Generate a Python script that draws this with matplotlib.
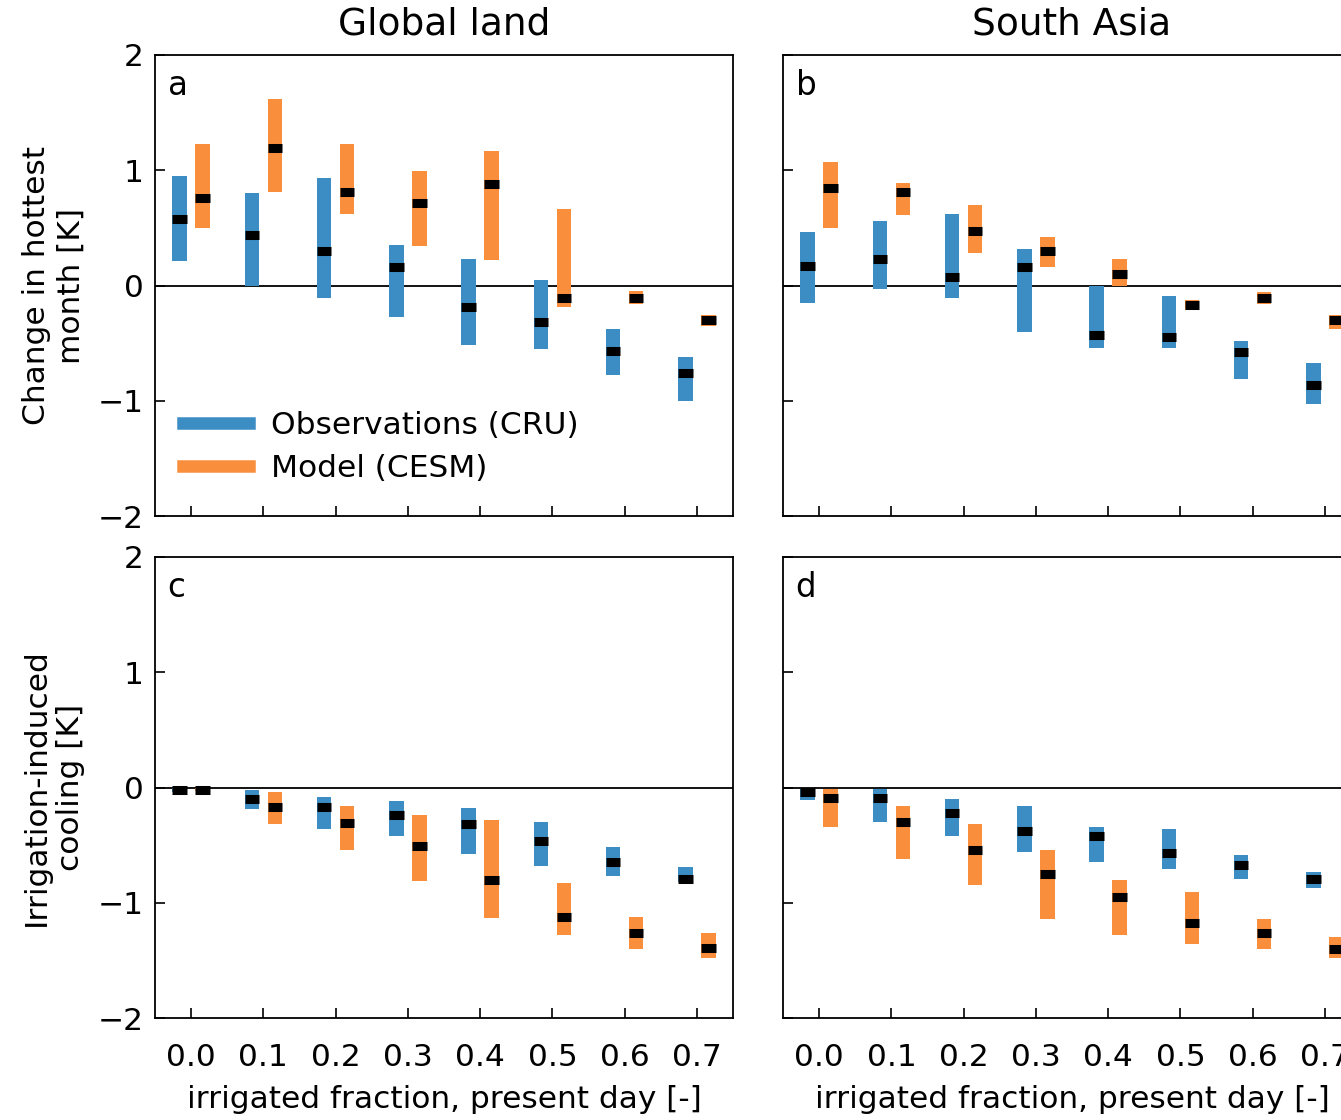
import matplotlib
matplotlib.use("Agg")
import matplotlib.pyplot as plt
from matplotlib.lines import Line2D
import numpy as np

# ---------------- data ----------------
irr_frac = [0.0, 0.1, 0.2, 0.3, 0.4, 0.5, 0.6, 0.7]
xtick_labels = ["0.0", "0.1", "0.2", "0.3", "0.4", "0.5", "0.6", "0.7"]

# Panel a: Global land, change in hottest month
a_obs_low = [0.21, 0.00, -0.11, -0.27, -0.52, -0.55, -0.78, -1.00]
a_obs_med = [0.58, 0.44, 0.30, 0.16, -0.19, -0.32, -0.57, -0.76]
a_obs_high = [0.95, 0.80, 0.93, 0.35, 0.23, 0.05, -0.38, -0.62]
a_mod_low = [0.50, 0.81, 0.62, 0.34, 0.22, -0.19, -0.16, -0.35]
a_mod_med = [0.76, 1.19, 0.81, 0.72, 0.88, -0.11, -0.11, -0.30]
a_mod_high = [1.23, 1.62, 1.23, 0.99, 1.17, 0.66, -0.05, -0.26]

# Panel b: South Asia, change in hottest month
b_obs_low = [-0.15, -0.03, -0.11, -0.40, -0.54, -0.54, -0.81, -1.03]
b_obs_med = [0.17, 0.23, 0.07, 0.16, -0.43, -0.45, -0.58, -0.86]
b_obs_high = [0.46, 0.56, 0.62, 0.32, 0.00, -0.09, -0.48, -0.67]
b_mod_low = [0.50, 0.61, 0.28, 0.16, 0.00, -0.21, -0.16, -0.38]
b_mod_med = [0.85, 0.81, 0.47, 0.30, 0.10, -0.17, -0.11, -0.30]
b_mod_high = [1.07, 0.89, 0.70, 0.42, 0.23, -0.13, -0.06, -0.26]

# Panel c: Global land, irrigation-induced cooling
c_obs_low = [-0.04, -0.19, -0.36, -0.42, -0.58, -0.68, -0.77, -0.82]
c_obs_med = [-0.02, -0.10, -0.17, -0.24, -0.32, -0.46, -0.65, -0.79]
c_obs_high = [0.00, -0.02, -0.08, -0.12, -0.18, -0.30, -0.52, -0.69]
c_mod_low = [-0.03, -0.32, -0.54, -0.81, -1.13, -1.28, -1.40, -1.48]
c_mod_med = [-0.02, -0.17, -0.31, -0.51, -0.80, -1.12, -1.26, -1.39]
c_mod_high = [0.00, -0.04, -0.16, -0.24, -0.28, -0.83, -1.12, -1.26]

# Panel d: South Asia, irrigation-induced cooling
d_obs_low = [-0.11, -0.30, -0.42, -0.56, -0.65, -0.71, -0.79, -0.87]
d_obs_med = [-0.04, -0.09, -0.22, -0.38, -0.42, -0.57, -0.67, -0.79]
d_obs_high = [-0.01, -0.01, -0.10, -0.16, -0.34, -0.36, -0.59, -0.73]
d_mod_low = [-0.34, -0.62, -0.85, -1.14, -1.28, -1.36, -1.40, -1.48]
d_mod_med = [-0.09, -0.30, -0.54, -0.75, -0.95, -1.18, -1.26, -1.40]
d_mod_high = [-0.01, -0.16, -0.32, -0.54, -0.80, -0.91, -1.14, -1.30]

col_titles = ["Global land", "South Asia"]
row_ylabels = ["Change in hottest\nmonth [K]", "Irrigation-induced\ncooling [K]"]
panel_letters = ["a", "b", "c", "d"]
series_labels = ["Observations (CRU)", "Model (CESM)"]
xlabel = "irrigated fraction, present day [-]"

OBS_COLOR = "#3b8dc4"
MOD_COLOR = "#f98e3c"

FS = 22.5
plt.rcParams["font.family"] = ["DejaVu Sans"]
plt.rcParams["font.size"] = FS

fig = plt.figure(figsize=(13.41, 11.2), dpi=100)

W, H = 1341.0, 1120.0
def add_ax(left_px, top_px, w_px, h_px):
    return fig.add_axes([left_px / W, 1 - (top_px + h_px) / H, w_px / W, h_px / H])

ax_w, ax_h = 578, 461
axes = [
    add_ax(155, 55, ax_w, ax_h),
    add_ax(783, 55, ax_w, ax_h),
    add_ax(155, 557, ax_w, ax_h),
    add_ax(783, 557, ax_w, ax_h),
]

panels = [
    (a_obs_low, a_obs_med, a_obs_high, a_mod_low, a_mod_med, a_mod_high),
    (b_obs_low, b_obs_med, b_obs_high, b_mod_low, b_mod_med, b_mod_high),
    (c_obs_low, c_obs_med, c_obs_high, c_mod_low, c_mod_med, c_mod_high),
    (d_obs_low, d_obs_med, d_obs_high, d_mod_low, d_mod_med, d_mod_high),
]

x = np.array(irr_frac)
off = 0.016
bw = 0.02

for i, (ax, pdata) in enumerate(zip(axes, panels)):
    ol, om, oh, ml, mm, mh = [np.array(v) for v in pdata]
    ax.axhline(0, color="black", lw=1.3, zorder=1)
    for xs, lo, md, hi, col in [(x - off, ol, om, oh, OBS_COLOR), (x + off, ml, mm, mh, MOD_COLOR)]:
        ax.bar(xs, hi - lo, bottom=lo, width=bw, color=col, linewidth=0, zorder=2)
        ax.hlines(md, xs - bw / 2, xs + bw / 2, color="black", lw=6.5, zorder=3)
    ax.set_xlim(-0.05, 0.75)
    ax.set_ylim(-2, 2)
    ax.set_xticks(irr_frac)
    ax.set_yticks([-2, -1, 0, 1, 2])
    ax.tick_params(direction="in", length=7, width=1.2, top=False, right=False,
                   labelsize=FS)
    ax.tick_params(axis="x", pad=18)
    ax.tick_params(axis="y", pad=8)
    for sp in ax.spines.values():
        sp.set_linewidth(1.3)
    ax.text(0.022, 0.97, panel_letters[i], transform=ax.transAxes,
            ha="left", va="top", fontsize=FS + 1)
    if i in (2, 3):
        ax.set_xticklabels(xtick_labels)
        ax.set_xlabel(xlabel, fontsize=FS, labelpad=9)
    else:
        ax.set_xticklabels([])
    if i in (0, 2):
        ax.set_yticklabels(["\u22122", "\u22121", "0", "1", "2"])
        ax.set_ylabel(row_ylabels[i // 2], fontsize=FS, labelpad=9, linespacing=1.25)
    else:
        ax.set_yticklabels([])
    if i in (0, 1):
        ax.set_title(col_titles[i], fontsize=FS * 1.2, pad=15)

handles = [Line2D([0], [0], color=OBS_COLOR, lw=9),
           Line2D([0], [0], color=MOD_COLOR, lw=9)]
axes[0].legend(handles, series_labels, loc="lower left", frameon=False,
               handlelength=2.1, handletextpad=0.7, fontsize=FS,
               borderaxespad=0.0, labelspacing=0.45, bbox_to_anchor=(0.027, 0.045))

fig.savefig("out.png", dpi=100)
